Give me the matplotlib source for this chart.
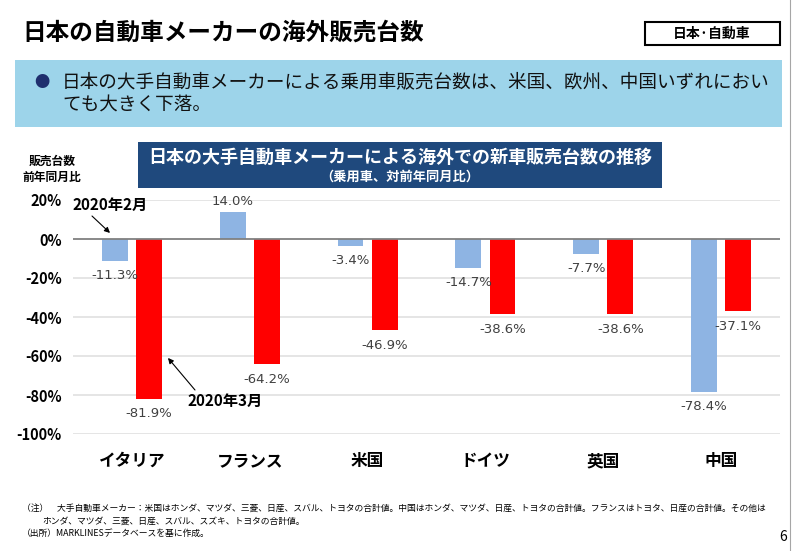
import matplotlib
matplotlib.use("Agg")
import matplotlib.pyplot as plt
from matplotlib.patches import Rectangle

plt.rcParams['font.family'] = ['Noto Sans CJK JP', 'DejaVu Sans']

# データ
countries = ['イタリア', 'フランス', '米国', 'ドイツ', '英国', '中国']
feb_2020 = [-11.3, 14.0, -3.4, -14.7, -7.7, -78.4]
mar_2020 = [-81.9, -64.2, -46.9, -38.6, -38.6, -37.1]
yticks = [20, 0, -20, -40, -60, -80, -100]

W, H = 800, 551
BLUE = '#8EB4E3'
RED = '#FF0000'
NAVY = '#1F497D'


def fx(x):
    return x / W


def fy(y):
    return 1 - y / H


fig = plt.figure(figsize=(8, 5.51), dpi=100)

# ページ枠
fig.add_artist(plt.Line2D([fx(790), fx(790)], [0, 1], color='#A6A6A6', lw=0.8))

# タイトル
fig.text(fx(22), fy(33), '日本の自動車メーカーの海外販売台数', fontsize=17,
         fontweight='bold', va='center', ha='left')
fig.add_artist(Rectangle((fx(645), fy(45)), fx(135), 23 / H, fill=False,
                         edgecolor='black', lw=1.5))
fig.text(fx(712), fy(34), '日本·自動車', fontsize=10, fontweight='bold',
         va='center', ha='center')

# 要約ボックス
fig.add_artist(Rectangle((fx(15), fy(127)), fx(767), 67 / H,
                         facecolor='#9DD4EA', edgecolor='none'))
fig.text(fx(42), fy(82), '●', fontsize=11, color='#1F2F6E', va='center', ha='center')
fig.text(fx(62), fy(82), '日本の大手自動車メーカーによる乗用車販売台数は、米国、欧州、中国いずれにおい',
         fontsize=13.4, va='center', ha='left', color='#111111')
fig.text(fx(62), fy(106), 'ても大きく下落。', fontsize=13.4, va='center', ha='left',
         color='#111111')

# グラフ見出し
fig.add_artist(Rectangle((fx(138), fy(188)), fx(524), 46 / H,
                         facecolor=NAVY, edgecolor='none'))
fig.text(fx(400), fy(157), '日本の大手自動車メーカーによる海外での新車販売台数の推移',
         fontsize=13, fontweight='bold', color='white', va='center', ha='center')
fig.text(fx(400), fy(177), '（乗用車、対前年同月比）', fontsize=9.5, fontweight='bold',
         color='white', va='center', ha='center')

fig.text(fx(52), fy(169), '販売台数\n前年同月比', fontsize=8.5, fontweight='bold',
         va='center', ha='center', linespacing=1.3)

# 棒グラフ
ax = fig.add_axes([fx(73), fy(434), fx(707), 234 / H])
x = list(range(len(countries)))
bw = 0.22
off = 0.145
bars_feb = ax.bar([i - off for i in x], feb_2020, bw, color=BLUE, zorder=2)
bars_mar = ax.bar([i + off for i in x], mar_2020, bw, color=RED, zorder=2)

ax.set_xlim(-0.5, len(countries) - 0.5)
ax.set_ylim(-100, 20)
ax.set_yticks(yticks)
ax.set_yticklabels([f'{t}%' for t in yticks], fontsize=10.5, fontweight='bold')
ax.set_xticks(x)
ax.set_xticklabels(countries, fontsize=12, fontweight='bold')
ax.tick_params(axis='both', length=0)
ax.tick_params(axis='y', pad=8)
ax.tick_params(axis='x', pad=13)
for s in ax.spines.values():
    s.set_visible(False)
for t in yticks:
    ax.axhline(t, color='#808080' if t == 0 else '#E0E0E0', lw=1.3 if t == 0 else 1.2,
               zorder=1 if t != 0 else 3)

for bars, vals in ((bars_feb, feb_2020), (bars_mar, mar_2020)):
    for b, v in zip(bars, vals):
        cx = b.get_x() + b.get_width() / 2
        if v >= 0:
            ax.annotate(f'{v:.1f}%', (cx, v), xytext=(0, 3), textcoords='offset points',
                        ha='center', va='bottom', fontsize=9.5, color='#404040',
                        family='DejaVu Sans')
        else:
            ax.annotate(f'{v:.1f}%', (cx, v), xytext=(0, -6), textcoords='offset points',
                        ha='center', va='top', fontsize=9.5, color='#404040',
                        family='DejaVu Sans')

# 注記矢印
arrow = dict(arrowstyle='-|>', color='black', lw=0.8, mutation_scale=8,
             shrinkA=0, shrinkB=0)
ax.annotate('', xy=(-0.186, 3.1), xytext=(fx(92), fy(216)), textcoords='figure fraction',
            arrowprops=arrow)
fig.text(fx(110), fy(205), '2020年2月', fontsize=11, fontweight='bold',
         va='center', ha='center')
ax.annotate('', xy=(0.306, -61), xytext=(fx(195), fy(390)), textcoords='figure fraction',
            arrowprops=arrow)
fig.text(fx(225), fy(401), '2020年3月', fontsize=11, fontweight='bold',
         va='center', ha='center')

# 脚注
fig.text(fx(22), fy(508), '（注）　大手自動車メーカー：米国はホンダ、マツダ、三菱、日産、スバル、トヨタの合計値。'
         '中国はホンダ、マツダ、日産、トヨタの合計値。フランスはトヨタ、日産の合計値。その他は',
         fontsize=6.35, va='center', ha='left')
fig.text(fx(42), fy(521), 'ホンダ、マツダ、三菱、日産、スバル、スズキ、トヨタの合計値。',
         fontsize=6.35, va='center', ha='left')
fig.text(fx(22), fy(534), '（出所）MARKLINESデータベースを基に作成。', fontsize=6.35,
         va='center', ha='left')
fig.text(fx(783), fy(537), '6', fontsize=10, va='center', ha='center')

fig.savefig('out.png', dpi=100)
